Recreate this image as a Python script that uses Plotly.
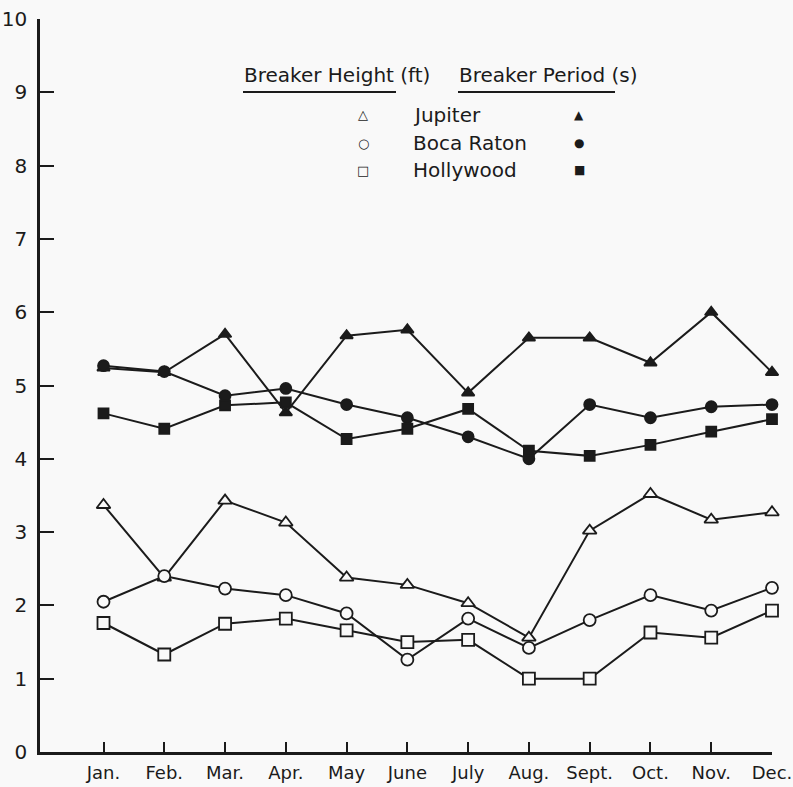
import plotly.graph_objects as go

months = ["Jan.", "Feb.", "Mar.", "Apr.", "May", "June", "July", "Aug.", "Sept.", "Oct.", "Nov.", "Dec."]

# Breaker height (ft)
jupiter_height = [3.37, 2.38, 3.43, 3.13, 2.38, 2.28, 2.03, 1.56, 3.02, 3.52, 3.17, 3.27]
boca_height = [2.05, 2.40, 2.23, 2.14, 1.89, 1.26, 1.82, 1.42, 1.80, 2.14, 1.93, 2.24]
hollywood_height = [1.76, 1.33, 1.75, 1.82, 1.66, 1.50, 1.53, 1.00, 1.00, 1.63, 1.56, 1.93]

# Breaker period (s)
jupiter_period = [5.24, 5.18, 5.70, 4.63, 5.68, 5.76, 4.90, 5.65, 5.65, 5.31, 6.00, 5.18]
boca_period = [5.27, 5.19, 4.86, 4.96, 4.74, 4.56, 4.30, 4.00, 4.74, 4.56, 4.71, 4.74]
hollywood_period = [4.62, 4.41, 4.73, 4.77, 4.27, 4.41, 4.68, 4.11, 4.04, 4.19, 4.37, 4.54]

y_ticks = [0, 1, 2, 3, 4, 5, 6, 7, 8, 9, 10]

FONT = "DejaVu Sans"
INK = "#1b1b1b"
BG = "#f9f9f9"

x_idx = list(range(len(months)))

fig = go.Figure()

def add(values, symbol, filled, size):
    fig.add_trace(go.Scatter(
        x=x_idx, y=values, mode="lines+markers",
        line=dict(color=INK, width=2),
        marker=dict(symbol=symbol, size=size,
                    color=INK if filled else BG,
                    line=dict(color=INK, width=1.8)),
        cliponaxis=False, showlegend=False,
    ))

add(jupiter_period, "triangle-up", True, 11)
add(boca_period, "circle", True, 11)
add(hollywood_period, "square", True, 10)
add(jupiter_height, "triangle-up", False, 12)
add(boca_height, "circle", False, 12)
add(hollywood_height, "square", False, 12)

def px_x(p):
    return (p - 40) / 732.0

def px_y(p):
    return (752 - p) / 733.0

ann = []
# headers
ann.append(dict(text="Breaker Height (ft)", x=px_x(242), y=px_y(75), xref="paper", yref="paper",
                xanchor="left", yanchor="middle", showarrow=False,
                font=dict(family=FONT, size=20, color=INK)))
ann.append(dict(text="Breaker Period (s)", x=px_x(457), y=px_y(75), xref="paper", yref="paper",
                xanchor="left", yanchor="middle", showarrow=False,
                font=dict(family=FONT, size=20, color=INK)))

legend_names = ["Jupiter", "Boca Raton", "Hollywood"]
open_sym = ["\u25B3", "\u25CB", "\u25A1"]
fill_sym = ["\u25B2", "\u25CF", "\u25A0"]
rows = [115, 143, 170]
for name, o, f, r in zip(legend_names, open_sym, fill_sym, rows):
    ann.append(dict(text=o, x=px_x(363), y=px_y(r), xref="paper", yref="paper",
                    xanchor="center", yanchor="middle", showarrow=False,
                    font=dict(family="DejaVu Sans", size=13, color=INK)))
    ann.append(dict(text=name, x=px_x(411), y=px_y(r), xref="paper", yref="paper",
                    xanchor="left", yanchor="middle", showarrow=False,
                    font=dict(family=FONT, size=20, color=INK)))
    ann.append(dict(text=f, x=px_x(579), y=px_y(r), xref="paper", yref="paper",
                    xanchor="center", yanchor="middle", showarrow=False,
                    font=dict(family="DejaVu Sans", size=12, color=INK)))

shapes = [
    dict(type="line", xref="paper", yref="paper", x0=px_x(243), x1=px_x(396),
         y0=px_y(92), y1=px_y(92), line=dict(color=INK, width=2)),
    dict(type="line", xref="paper", yref="paper", x0=px_x(458), x1=px_x(615),
         y0=px_y(92), y1=px_y(92), line=dict(color=INK, width=2)),
]

fig.update_layout(
    width=793, height=787,
    margin=dict(l=40, r=21, t=19, b=35, autoexpand=False),
    paper_bgcolor=BG, plot_bgcolor=BG,
    font=dict(family=FONT, color=INK),
    annotations=ann, shapes=shapes,
    showlegend=False,
)

fig.update_xaxes(
    range=[-1.045, 11], tickmode="array", tickvals=x_idx, ticktext=months,
    ticks="inside", ticklen=10, tickwidth=1.5, tickcolor=INK,
    showline=True, linecolor=INK, linewidth=2.5,
    showgrid=False, zeroline=False, automargin=False,
    ticklabelstandoff=3, ticklabeloverflow="allow",
    tickfont=dict(family=FONT, size=18, color=INK),
)
fig.update_yaxes(
    range=[0, 10], tickmode="array", tickvals=y_ticks, ticktext=[str(v) for v in y_ticks],
    ticks="inside", ticklen=14, tickwidth=1.5, tickcolor=INK,
    showline=True, linecolor=INK, linewidth=2.5,
    showgrid=False, zeroline=False, automargin=False,
    ticklabelstandoff=6, ticklabeloverflow="allow",
    tickfont=dict(family=FONT, size=20, color=INK),
)

fig.write_html("out.html")
